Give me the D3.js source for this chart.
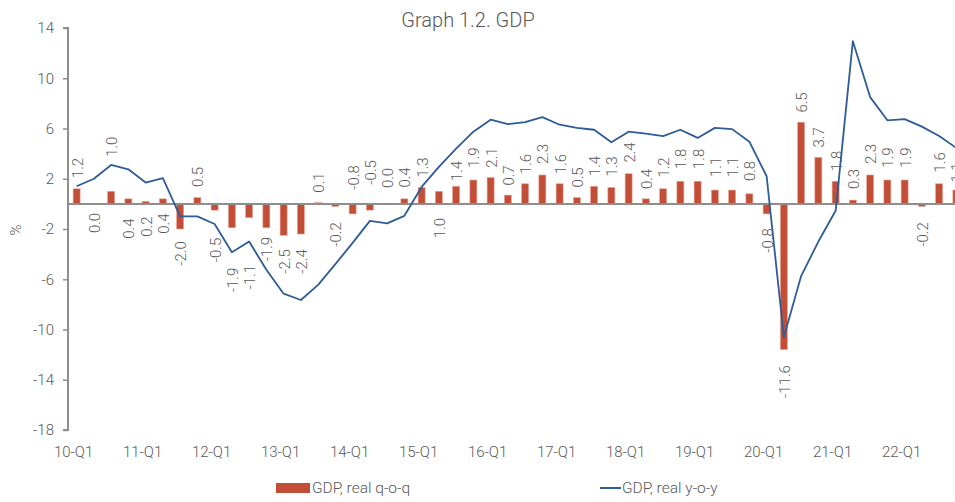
<!DOCTYPE html>
<html>
<head>
<meta charset="utf-8">
<script src="https://cdn.jsdelivr.net/npm/d3@7"></script>
<style>
  html, body { margin: 0; padding: 0; background: #fff; }
  svg { display: block; }
  text { font-family: Roboto, "Open Sans", sans-serif; font-weight: 300; fill: #595959; }
</style>
</head>
<body>
<svg id="chart" width="955" height="502"></svg>
<script>
const categories = [
  "10-Q1","10-Q2","10-Q3","10-Q4","11-Q1","11-Q2","11-Q3","11-Q4",
  "12-Q1","12-Q2","12-Q3","12-Q4","13-Q1","13-Q2","13-Q3","13-Q4",
  "14-Q1","14-Q2","14-Q3","14-Q4","15-Q1","15-Q2","15-Q3","15-Q4",
  "16-Q1","16-Q2","16-Q3","16-Q4","17-Q1","17-Q2","17-Q3","17-Q4",
  "18-Q1","18-Q2","18-Q3","18-Q4","19-Q1","19-Q2","19-Q3","19-Q4",
  "20-Q1","20-Q2","20-Q3","20-Q4","21-Q1","21-Q2","21-Q3","21-Q4",
  "22-Q1","22-Q2","22-Q3","22-Q4"
];
const tickLabels = ["10-Q1","11-Q1","12-Q1","13-Q1","14-Q1","15-Q1","16-Q1","17-Q1","18-Q1","19-Q1","20-Q1","21-Q1","22-Q1"];
const yTicks = [14, 10, 6, 2, -2, -6, -10, -14, -18];

const qoq = [1.2,0.0,1.0,0.4,0.2,0.4,-2.0,0.5,
  -0.5,-1.9,-1.1,-1.9,-2.5,-2.4,0.1,-0.2,
  -0.8,-0.5,0.0,0.4,1.3,1.0,1.4,1.9,
  2.1,0.7,1.6,2.3,1.6,0.5,1.4,1.3,
  2.4,0.4,1.2,1.8,1.8,1.1,1.1,0.8,
  -0.8,-11.6,6.5,3.7,1.8,0.3,2.3,1.9,
  1.9,-0.2,1.6,1.1];

const yoy = [1.4,2.0,3.1,2.75,1.7,2.05,-1.0,-1.0,
  -1.6,-3.85,-3.0,-5.25,-7.15,-7.65,-6.45,-4.8,
  -3.1,-1.35,-1.55,-0.95,1.35,2.95,4.4,5.75,
  6.7,6.35,6.5,6.9,6.3,6.05,5.9,4.9,
  5.75,5.6,5.4,5.9,5.25,6.05,5.95,4.95,
  2.2,-10.6,-5.75,-3.0,-0.55,12.95,8.5,6.65,
  6.75,6.15,5.4,4.45];

// where each q-o-q data label sits (in % units)
const labelAt = [2.86,-1.52,4.55,-1.97,-1.81,-1.57,-3.95,2.14,
  -3.67,-6.06,-5.82,-3.6,-4.59,-4.59,1.70,-2.44,
  2.10,2.5,2.06,2.10,2.90,-1.92,2.62,3.69,
  3.69,2.26,3.18,3.97,3.18,2.1,3.02,2.98,
  4.09,1.98,2.90,3.58,3.58,2.94,2.94,2.62,
  -2.91,-14.14,8.07,5.29,3.42,1.98,3.97,3.69,
  3.69,-2.44,3.30,2.5];

const seriesNames = ["GDP, real q-o-q", "GDP, real y-o-y"];
const title = "Graph 1.2. GDP";
const yTitle = "%";

const hyph = s => s.replace(/\u2212/g, "-");
const fmt1 = d => hyph(d3.format(".1f")(d));

const svg = d3.select("#chart");
const left = 68, step = 17.25;
const x = d3.scaleBand().domain(categories).range([left, left + categories.length * step]).padding(0);
const y = d3.scaleLinear().domain([-18, 14]).range([430, 28]);
const barW = 7;
const red = "#C24E37", blue = "#2E5C96", axisGrey = "#8E8E8E";

// title
svg.append("text").attr("x", 468).attr("y", 27).attr("text-anchor", "middle")
  .style("font-size", "20px").text(title);

// y title
svg.append("text").attr("transform", `translate(21,230) rotate(-90)`)
  .attr("text-anchor", "middle").style("font-size", "15px").text(yTitle);

// bars
svg.append("g").selectAll("rect").data(qoq).join("rect")
  .attr("x", (d, i) => x(categories[i]) + x.bandwidth() / 2 - barW / 2)
  .attr("width", barW)
  .attr("y", d => y(Math.max(0, d)))
  .attr("height", d => Math.abs(y(d) - y(0)))
  .attr("fill", red)
  .attr("stroke", "#E9A493").attr("stroke-width", 0.6);

// y axis
const yAxis = d3.axisLeft(y).tickValues(yTicks).tickSize(5).tickPadding(9).tickFormat(d => hyph(String(d)));
const gy = svg.append("g").attr("transform", `translate(${left},0)`).call(yAxis);
gy.select(".domain").attr("stroke", axisGrey).attr("stroke-width", 2).attr("d", `M-5,${y(14)}H0V${y(-18)}H-5`);
gy.selectAll(".tick line").attr("stroke", axisGrey).attr("stroke-width", 1.5);
gy.selectAll(".tick text").style("font-size", "15px").style("font-family", "Roboto, sans-serif").attr("fill", "#595959");

// zero line (category axis)
svg.append("line").attr("x1", left).attr("x2", 955).attr("y1", y(0)).attr("y2", y(0))
  .attr("stroke", axisGrey).attr("stroke-width", 2);

// x tick labels
const xAxis = d3.axisBottom(x).tickValues(tickLabels).tickSize(0).tickPadding(0);
const gx = svg.append("g").attr("transform", `translate(-3,${y(-18)})`).call(xAxis);
gx.select(".domain").remove();
gx.selectAll(".tick text").attr("y", 22).attr("dy", "0.35em")
  .style("font-size", "15px").style("font-family", "Roboto, sans-serif").attr("fill", "#595959");

// y-o-y line
const line = d3.line().x((d, i) => x(categories[i]) + x.bandwidth() / 2).y(d => y(d));
svg.append("path").datum(yoy).attr("d", line).attr("fill", "none")
  .attr("stroke", blue).attr("stroke-width", 1.8).attr("stroke-linejoin", "round");

// data labels
svg.append("g").selectAll("text").data(qoq).join("text")
  .attr("transform", (d, i) => `translate(${x(categories[i]) + x.bandwidth() / 2 + 0.5},${y(labelAt[i])}) rotate(-90)`)
  .attr("text-anchor", "middle").attr("dy", "0.36em")
  .style("font-size", "15px")
  .text(d => fmt1(d));

// legend
const lg = svg.append("g");
lg.append("rect").attr("x", 276).attr("y", 483).attr("width", 34).attr("height", 10).attr("fill", red);
lg.append("text").attr("x", 312).attr("y", 488).attr("dy", "0.35em").style("font-size", "15.5px").text(seriesNames[0]);
lg.append("line").attr("x1", 600).attr("x2", 621).attr("y1", 488).attr("y2", 488).attr("stroke", blue).attr("stroke-width", 2);
lg.append("text").attr("x", 622).attr("y", 488).attr("dy", "0.35em").style("font-size", "15.5px").text(seriesNames[1]);
</script>
</body>
</html>
